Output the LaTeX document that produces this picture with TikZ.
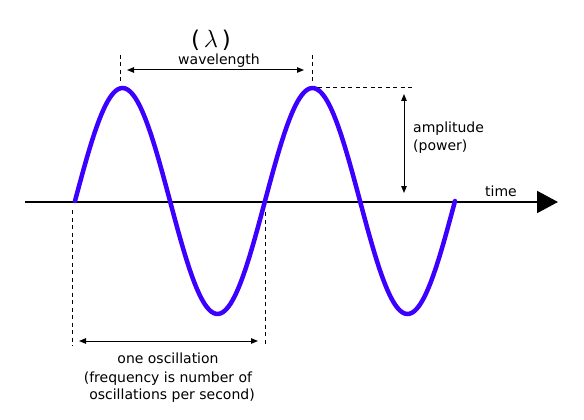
\documentclass[tikz,border=0pt]{standalone}
\usepackage{fontspec}
\setmainfont{DejaVu Sans}
\usetikzlibrary{arrows.meta}
\definecolor{wavecol}{RGB}{60,0,255}
\begin{document}
\begin{tikzpicture}[x=1pt,y=-1pt,
  wave/.style={line width=4.5pt, draw=wavecol, line cap=round},
  axisline/.style={line width=2pt, -{Triangle[length=21pt,width=22pt]}},
  dim/.style={line width=1pt, {Triangle[length=7pt,width=5.5pt]}-{Triangle[length=7pt,width=5.5pt]}},
  guide/.style={line width=0.9pt, dash pattern=on 4pt off 3.5pt},
  lbl/.style={font=\fontsize{14}{17}\selectfont, inner sep=0pt}]
\useasboundingbox[fill=white] (0,0) rectangle (584,420);
% axis
\coordinate (axL) at (25,202);
\coordinate (axR) at (558,202);
\draw[axisline] (axL) -- (axR);
% wave
\draw[wave] plot[domain=75:455, samples=160, smooth] (\x, {201-113*sin(1.8947368*(\x-75))});
% guides
\coordinate (g1t) at (120,55); \coordinate (g1b) at (120,84);
\coordinate (g2t) at (312,55); \coordinate (g2b) at (312,84);
\coordinate (g3l) at (318,87); \coordinate (g3r) at (415,87);
\coordinate (g4t) at (72,210); \coordinate (g4b) at (72,346);
\coordinate (g5t) at (265,212); \coordinate (g5b) at (265,346);
\draw[guide] (g1t) -- (g1b);
\draw[guide] (g2t) -- (g2b);
\draw[guide] (g3l) -- (g3r);
\draw[guide] (g4t) -- (g4b);
\draw[guide] (g5t) -- (g5b);
% dimension arrows
\coordinate (wl1) at (127,70); \coordinate (wl2) at (304,70);
\coordinate (am1) at (404,94); \coordinate (am2) at (404,193);
\coordinate (os1) at (79,341); \coordinate (os2) at (258,341);
\draw[dim] (wl1) -- (wl2);
\draw[dim] (am1) -- (am2);
\draw[dim] (os1) -- (os2);
% labels
\node[font=\fontsize{23}{26}\selectfont, inner sep=0pt] (lam) at (211,40) {(\,$\lambda$\,)};
\node[lbl, anchor=base] (wltxt) at (219,65) {wavelength};
\node[lbl, anchor=base west] (amp) at (413,132) {amplitude};
\node[lbl, anchor=base west] (pow) at (413,150) {(power)};
\node[lbl, anchor=base west] (time) at (485,196) {time};
\node[lbl, anchor=base] (one) at (168,363) {one oscillation};
\node[lbl, anchor=base] (freq) at (168,382) {(frequency is number of};
\node[lbl, anchor=base] (persec) at (172,399) {oscillations per second)};
\end{tikzpicture}
\end{document}
